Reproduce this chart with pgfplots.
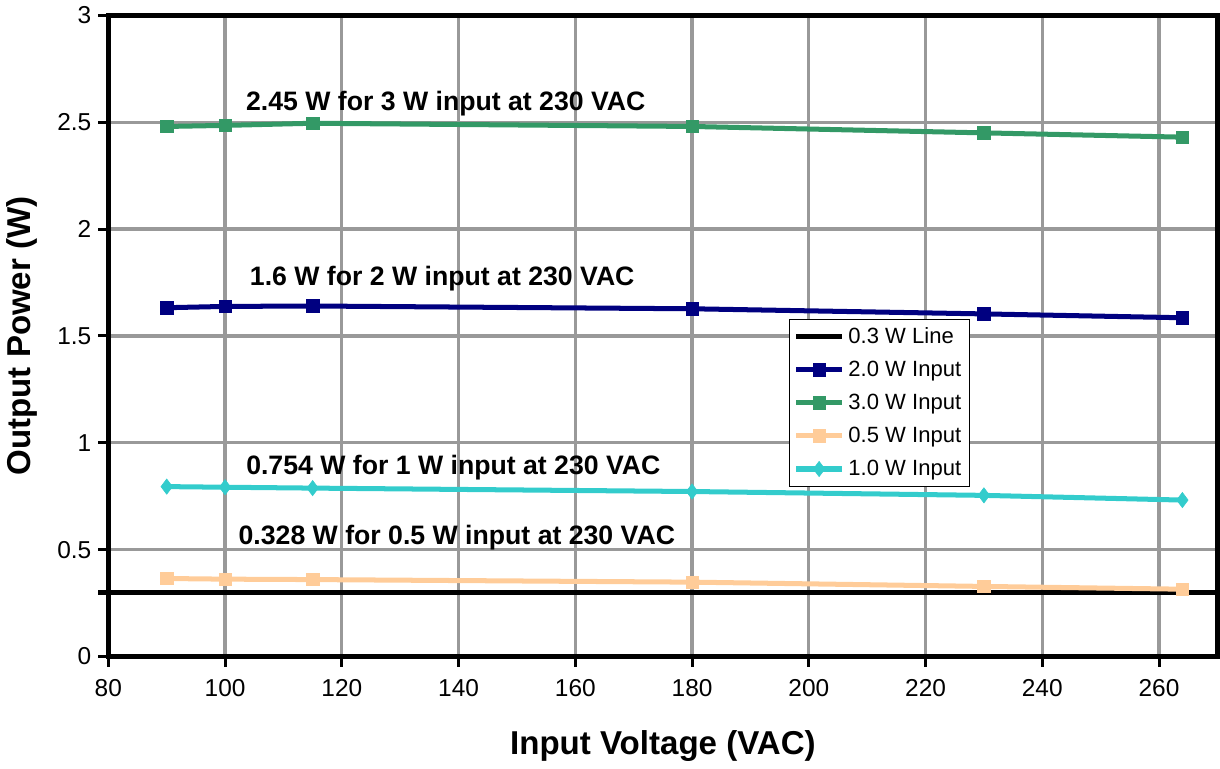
\documentclass[border=0pt]{standalone}
\usepackage{fontspec}
\setmainfont{Liberation Sans}
\usepackage{pgfplots}
\pgfplotsset{compat=1.18}
\definecolor{cgreen}{HTML}{339966}
\definecolor{cnavy}{HTML}{000080}
\definecolor{cpeach}{HTML}{FFCC99}
\definecolor{ccyan}{HTML}{33CCCC}
\definecolor{cgrid}{HTML}{999999}
\begin{document}
\begin{tikzpicture}
\begin{axis}[
    scale only axis,
    width=553.5pt, height=320pt,
    xmin=80, xmax=270, ymin=0, ymax=3,
    xtick={80,100,...,260},
    ytick={0,0.5,...,3},
    xtick pos=bottom, ytick pos=left,
    grid=major,
    major grid style={cgrid, line width=1.6pt},
    axis line style={black, line width=2.6pt},
    tick align=outside,
    major tick length=5pt,
    tick style={black, line width=1.5pt},
    tick label style={font=\fontsize{12.2}{14}\selectfont},
    xticklabel style={yshift=-3pt},
    /pgf/number format/assume math mode=true,
    yticklabel style={/pgf/number format/fixed, /pgf/number format/precision=1},
    xlabel={\bfseries Input Voltage (VAC)},
    ylabel={\bfseries Output Power (W)},
    label style={font=\fontsize{16.5}{18}\selectfont},
    xlabel style={yshift=-10pt},
    ylabel style={yshift=3pt},
    clip=false,
    legend style={at={(0.614,0.527)}, anchor=north west, draw=black, line width=0.5pt,
        fill=white, font=\fontsize{11}{13}\selectfont, row sep=3.3pt,
        inner sep=2pt},
    legend cell align=left,
    legend image code/.code={
        \draw[mark repeat=2, mark phase=2, #1]
            plot coordinates {(0cm,0cm) (0.4cm,0cm) (0.8cm,0cm)};},
    every axis plot/.append style={line width=2.5pt, mark options={line width=0.3pt}},
]
\addplot[black, no marks] coordinates {(78.3,0.3) (270,0.3)};
\addlegendentry{0.3 W Line}
\addplot[cnavy, mark=square*, mark size=3.1pt] coordinates {
(90,1.632) (100,1.638) (115,1.640) (180,1.627) (230,1.603) (264,1.585)};
\addlegendentry{2.0 W Input}
\addplot[cgreen, mark=square*, mark size=3.1pt] coordinates {
(90,2.480) (100,2.485) (115,2.495) (180,2.480) (230,2.450) (264,2.430)};
\addlegendentry{3.0 W Input}
\addplot[cpeach, mark=square*, mark size=3.1pt] coordinates {
(90,0.365) (100,0.362) (115,0.360) (180,0.348) (230,0.328) (264,0.315)};
\addlegendentry{0.5 W Input}
\addplot[ccyan, mark=diamond*, mark size=3.8pt] coordinates {
(90,0.795) (100,0.792) (115,0.788) (180,0.772) (230,0.754) (264,0.732)};
\addlegendentry{1.0 W Input}
\begin{scope}[font=\fontsize{13.3}{15}\selectfont\bfseries, anchor=base]
\node at (axis cs:137.8,2.556) {2.45 W for 3 W input at 230 VAC};
\node at (axis cs:137.2,1.736) {1.6 W for 2 W input at 230 VAC};
\node at (axis cs:139.1,0.853) {0.754 W for 1 W input at 230 VAC};
\node at (axis cs:139.7,0.525) {0.328 W for 0.5 W input at 230 VAC};
\end{scope}
\end{axis}
\end{tikzpicture}
\end{document}
